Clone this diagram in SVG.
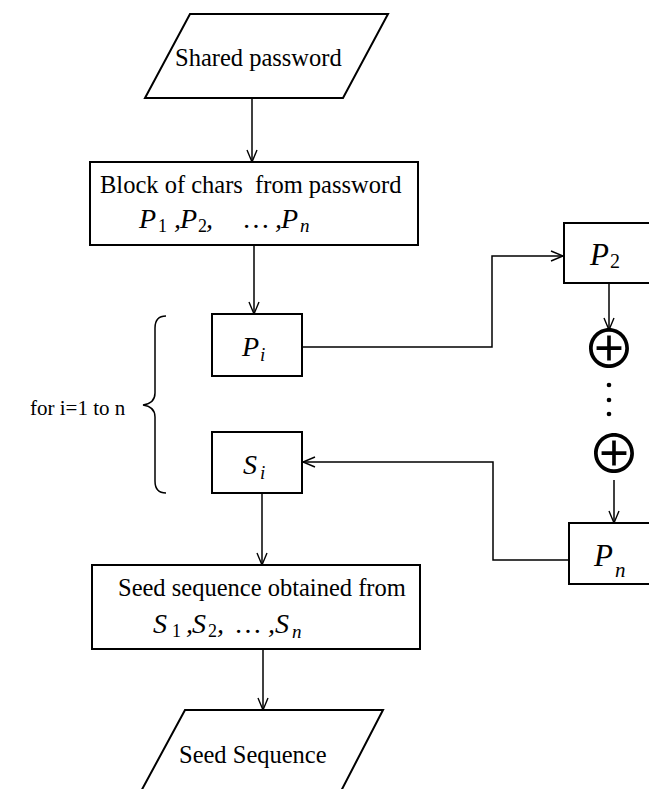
<svg xmlns="http://www.w3.org/2000/svg" width="649" height="789" viewBox="0 0 649 789">
<defs>
<marker id="arr" markerUnits="userSpaceOnUse" markerWidth="16" markerHeight="14" refX="13" refY="6" orient="auto">
<path d="M1,1 L13,6 L1,11" fill="none" stroke="#000" stroke-width="1.4"/>
</marker>
<style>
.shape{fill:#fff;stroke:#000;stroke-width:2}
.ln{fill:none;stroke:#000;stroke-width:1.5}
.t{font-family:"Liberation Serif","Times New Roman",serif;font-size:24.5px;fill:#000}
.m{font-family:"Liberation Serif","Times New Roman",serif;font-size:28px;font-style:italic;fill:#000}
.big{font-size:31px}
.sub{font-size:18px;font-style:normal}
.subi{font-size:19px;font-style:italic}
.op{font-family:"Noto Sans CJK SC","DejaVu Sans",sans-serif;font-size:54px;fill:#000}
.dot{fill:#000}
</style>
</defs>
<rect width="649" height="789" fill="#fff"/>
<g id="connectors">
<line class="ln" x1="252" y1="98" x2="252" y2="162" marker-end="url(#arr)"/>
<line class="ln" x1="254" y1="245" x2="254" y2="314" marker-end="url(#arr)"/>
<polyline class="ln" points="302,347 492,347 492,256 563,256" marker-end="url(#arr)"/>
<line class="ln" x1="609" y1="283" x2="609" y2="330" marker-end="url(#arr)"/>
<line class="ln" x1="614" y1="480" x2="614" y2="523" marker-end="url(#arr)"/>
<polyline class="ln" points="569,560 493,560 493,462 303,462" marker-end="url(#arr)"/>
<line class="ln" x1="262" y1="493" x2="262" y2="565" marker-end="url(#arr)"/>
<line class="ln" x1="263" y1="649" x2="263" y2="710" marker-end="url(#arr)"/>
</g>
<g id="input">
<polygon class="shape" points="190,14 388,14 343,98 145,98"/>
<text class="t" x="175" y="66">Shared password</text>
</g>
<g id="block">
<rect class="shape" x="90" y="162" width="328" height="83"/>
<text class="t" x="100" y="193" xml:space="preserve">Block of chars  from password</text>
<text class="m" y="228"><tspan x="139">P</tspan><tspan class="sub" x="158" dy="4">1</tspan><tspan x="174" dy="-4">,</tspan><tspan x="180">P</tspan><tspan class="sub" x="198" dy="4">2</tspan><tspan x="206" dy="-4">,</tspan><tspan x="244">…</tspan><tspan x="275">,</tspan><tspan x="281">P</tspan><tspan class="subi" x="300" dy="4">n</tspan></text>
</g>
<g id="pi">
<rect class="shape" x="212" y="314" width="90" height="62"/>
<text class="m" y="356"><tspan x="242">P</tspan><tspan class="subi" x="260" dy="5">i</tspan></text>
</g>
<g id="si">
<rect class="shape" x="212" y="432" width="90" height="61"/>
<text class="m" y="474"><tspan x="243">S</tspan><tspan class="subi" x="260" dy="5">i</tspan></text>
</g>
<g id="loop">
<path class="ln" d="M166,316 C158,316 155,320 155,328 L155,393 C155,400 150,404 143,405 C150,406 155,410 155,417 L155,481 C155,489 158,493 166,493"/>
<text class="t" x="30" y="415" style="font-size:21px">for i=1 to n</text>
</g>
<g id="p2">
<rect class="shape" x="564" y="223" width="100" height="60"/>
<text class="m big" y="265"><tspan x="590">P</tspan><tspan class="sub" x="610" dy="3" style="font-size:20px">2</tspan></text>
</g>
<g id="xor1">
<text class="op" x="609" y="369" text-anchor="middle">⊕</text>
</g>
<g id="dots">
<circle class="dot" cx="609" cy="385" r="2.3"/>
<circle class="dot" cx="609" cy="400" r="2.3"/>
<circle class="dot" cx="609" cy="414" r="2.3"/>
</g>
<g id="xor2">
<text class="op" x="614" y="474" text-anchor="middle">⊕</text>
</g>
<g id="pn">
<rect class="shape" x="569" y="523" width="100" height="61"/>
<text class="m big" y="566"><tspan x="594">P</tspan><tspan class="subi" x="615" dy="11" style="font-size:21px">n</tspan></text>
</g>
<g id="seedbox">
<rect class="shape" x="92" y="565" width="328" height="84"/>
<text class="t" x="118" y="596">Seed sequence obtained from</text>
<text class="m" y="633"><tspan x="153">S</tspan><tspan class="sub" x="172" dy="4">1</tspan><tspan x="186" dy="-4">,</tspan><tspan x="192">S</tspan><tspan class="sub" x="208" dy="4">2</tspan><tspan x="217" dy="-4">,</tspan><tspan x="236">…</tspan><tspan x="268">,</tspan><tspan x="275">S</tspan><tspan class="subi" x="292" dy="5">n</tspan></text>
</g>
<g id="output">
<polygon class="shape" points="185,710 383,710 339,795 139,795"/>
<text class="t" x="179" y="763">Seed Sequence</text>
</g>
</svg>
